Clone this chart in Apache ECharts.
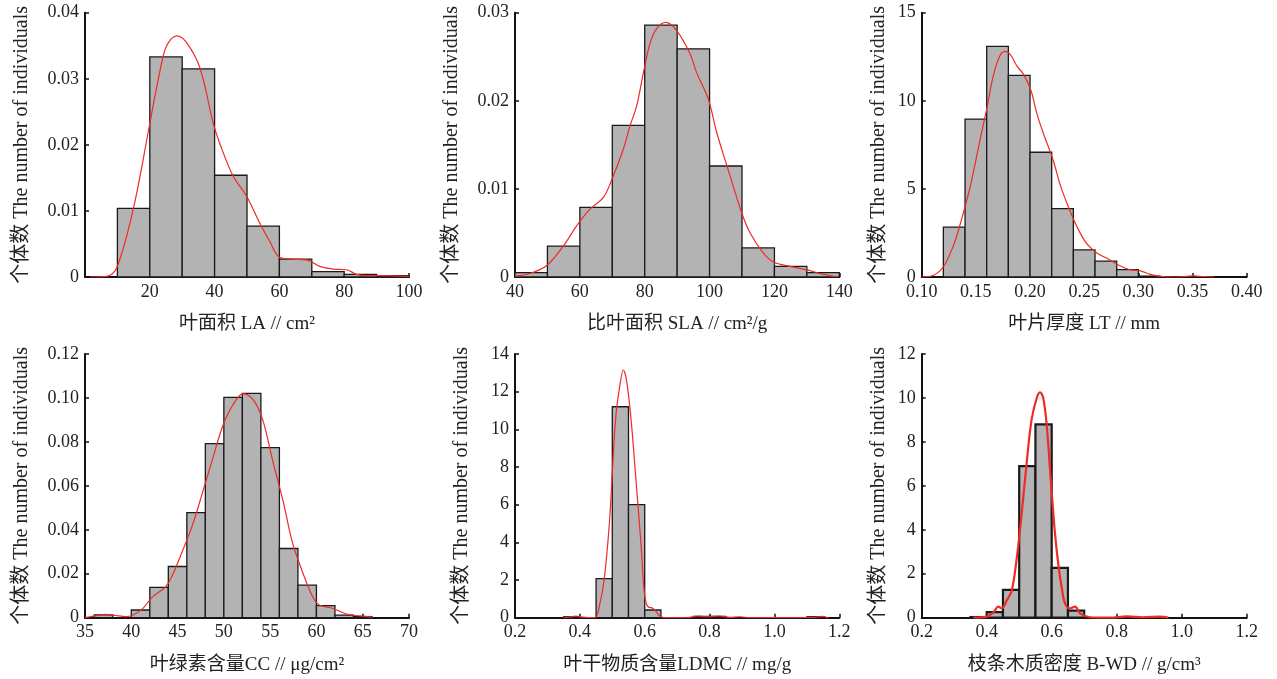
<!DOCTYPE html>
<html><head><meta charset="utf-8">
<script src="https://cdn.jsdelivr.net/npm/echarts@6.0.0/dist/echarts.min.js"></script>
<style>html,body{margin:0;padding:0;background:#fff}#c{width:1277px;height:679px}</style>
</head><body><div id="c"></div>
<script>
// ---------- Panel 1: 叶面积 LA ----------
const laEdges = [10,20,30,40,50,60,70,80,90,100];
const laDensity = [0.0104,0.0333,0.0315,0.0154,0.0077,0.0027,0.0008,0.0004,0.0002];
const laCurveX = [1.5,6.7,9.8,14.9,19.8,23.1,25.2,28.3,31.3,35.5,39.6,41.6,45.7,49.8,54,57,60,64,68.3,72.5,76.6,80.7,83.8,86.8,92,100];
const laCurveY = [0,0.0001,0.0014,0.0103,0.0227,0.0311,0.035,0.0365,0.0355,0.0316,0.0232,0.0202,0.0153,0.0123,0.0081,0.0054,0.003,0.0027,0.0026,0.0016,0.0012,0.0011,0.0004,0.0002,0.0002,0.0001];
const laXTicks = ['', '20', '40', '60', '80', '100'];
const laYTicks = ['0', '0.01', '0.02', '0.03', '0.04'];

// ---------- Panel 2: 比叶面积 SLA ----------
const slaEdges = [40,50,60,70,80,90,100,110,120,130,140];
const slaDensity = [0.0005,0.0035,0.0079,0.0172,0.0286,0.0259,0.0126,0.0033,0.0012,0.0005];
const slaCurveX = [40,44.6,49.8,54.9,59,63.1,67.2,69.8,73.4,75.5,77.5,79.6,81.7,83.7,86.5,89.8,93.9,96,99.6,102.2,106.3,109.9,112.5,116.6,119.7,124.8,130,135.1,139.7];
const slaCurveY = [0.0001,0.0004,0.0013,0.0035,0.0058,0.0077,0.009,0.011,0.0145,0.0172,0.0194,0.0232,0.0266,0.0282,0.0289,0.028,0.0254,0.0232,0.0202,0.0164,0.0115,0.0073,0.005,0.0027,0.0017,0.0012,0.0008,0.0003,0];
const slaXTicks = ['40', '60', '80', '100', '120', '140'];
const slaYTicks = ['0', '0.01', '0.02', '0.03'];

// ---------- Panel 3: 叶片厚度 LT ----------
const ltEdges = [0.12,0.14,0.16,0.18,0.20,0.22,0.24,0.26,0.28,0.30,0.32];
const ltCounts = [2.83,8.96,13.09,11.44,7.08,3.88,1.54,0.9,0.42,0.05];
const ltCurveX = [0.10,0.111,0.12,0.129,0.135,0.145,0.154,0.16,0.166,0.172,0.177,0.182,0.188,0.194,0.201,0.206,0.212,0.221,0.228,0.235,0.243,0.252,0.262,0.271,0.282,0.292,0.302,0.311,0.32,0.335,0.345,0.351,0.36,0.37];
const ltCurveY = [0,0.1,0.58,1.73,2.88,5.19,7.83,9.53,11.4,12.53,12.8,12.6,11.97,11.5,10.56,9.34,8.2,6.7,5.2,4.04,2.9,1.92,1.35,1.06,0.67,0.42,0.35,0.15,0.04,0,0.04,0.06,0.02,0];
const ltXTicks = ['0.10', '0.15', '0.20', '0.25', '0.30', '0.35', '0.40'];
const ltYTicks = ['0', '5', '10', '15'];

// ---------- Panel 4: 叶绿素含量 CC ----------
const ccEdges = [36,38,40,42,44,46,48,50,52,54,56,58,60,62,64,66];
const ccDensity = [0.0013,0,0.0035,0.0138,0.0233,0.0478,0.0792,0.1003,0.1021,0.0774,0.0315,0.0148,0.0055,0.0012,0.0005];
const ccCurveX = [35,36.1,37.2,38.3,39.4,40.1,41.2,42.3,43.7,44.4,45.3,46.6,47.7,48.8,49.9,51,52.1,53.2,54.2,55.3,56.4,57.4,58.5,59.6,60.3,61.8,63.2,64.7,66.1];
const ccCurveY = [0,0.0008,0.0015,0.001,0.0005,0.001,0.004,0.0095,0.014,0.019,0.028,0.042,0.057,0.0725,0.0875,0.097,0.102,0.099,0.09,0.071,0.053,0.0343,0.0208,0.0095,0.0058,0.0042,0.0017,0.0008,0.0002];
const ccXTicks = ['35', '40', '45', '50', '55', '60', '65', '70'];
const ccYTicks = ['0', '0.02', '0.04', '0.06', '0.08', '0.10', '0.12'];

// ---------- Panel 5: 叶干物质含量 LDMC ----------
const ldmcEdges = [0.35,0.40,0.45,0.50,0.55,0.60,0.65,0.70,0.75,0.80,0.85,0.90,0.95,1.00,1.05,1.10,1.15];
const ldmcCounts = [0.05,0,2.07,11.2,6.0,0.41,0,0,0.07,0.07,0,0,0,0,0,0.05];
const ldmcCurveX = [0.35,0.377,0.388,0.408,0.446,0.46,0.475,0.491,0.501,0.511,0.524,0.534,0.544,0.558,0.573,0.589,0.599,0.609,0.625,0.635,0.65,0.676,0.738,0.764,0.79,0.831,0.862,0.893,0.924,1.12,1.145,1.166];
const ldmcCurveY = [0,0.05,0.09,0.03,0,0.6,2.03,5.0,8.0,10.7,12.4,13.15,12.6,10.5,7.3,3.8,1.3,0.6,0.5,0.32,0.05,0,0.02,0.09,0.05,0.09,0.02,0.05,0,0,0.07,0];
const ldmcXTicks = ['0.2', '0.4', '0.6', '0.8', '1.0', '1.2'];
const ldmcYTicks = ['0', '2', '4', '6', '8', '10', '12', '14'];

// ---------- Panel 6: 枝条木质密度 B-WD ----------
const bwdEdges = [0.35,0.40,0.45,0.50,0.55,0.60,0.65,0.70];
const bwdCounts = [0.03,0.25,1.27,6.9,8.8,2.27,0.32];
const bwdCurveX = [0.359,0.4,0.42,0.436,0.446,0.462,0.477,0.492,0.508,0.523,0.538,0.554,0.564,0.574,0.585,0.597,0.61,0.621,0.631,0.641,0.656,0.672,0.687,0.718,0.779,0.831,0.882,0.933,0.959];
const bwdCurveY = [0,0.05,0.23,0.5,0.42,0.8,1.23,2.65,4.8,7.05,9.0,10.0,10.25,10.0,8.7,6.3,3.85,2.35,1.35,0.65,0.42,0.5,0.2,0.02,0,0.06,0.02,0.05,0];
const bwdXTicks = ['0.2', '0.4', '0.6', '0.8', '1.0', '1.2'];
const bwdYTicks = ['0', '2', '4', '6', '8', '10', '12'];

const yName = '个体数 The number of individuals';
const FONT = '"Liberation Serif", "Noto Sans CJK SC", serif';
const TXT = '#222';

const panels = [
  {edges: laEdges, vals: laDensity, cx: laCurveX, cy: laCurveY, xt: laXTicks, yt: laYTicks,
   xmin: 0, xmax: 100, xint: 20, ymin: 0, ymax: 0.04, yint: 0.01,
   xname: '叶面积 LA // cm²', grid: {left: 85, top: 12.7, width: 324, height: 264.3}, yGap: 53, lw: 1.3, cw: 1.2},
  {edges: slaEdges, vals: slaDensity, cx: slaCurveX, cy: slaCurveY, xt: slaXTicks, yt: slaYTicks,
   xmin: 40, xmax: 140, xint: 20, ymin: 0, ymax: 0.03, yint: 0.01,
   xname: '比叶面积 SLA // cm²/g', grid: {left: 515, top: 12.7, width: 324.3, height: 264.3}, yGap: 53, lw: 1.3, cw: 1.2},
  {edges: ltEdges, vals: ltCounts, cx: ltCurveX, cy: ltCurveY, xt: ltXTicks, yt: ltYTicks,
   xmin: 0.10, xmax: 0.40, xint: 0.05, ymin: 0, ymax: 15, yint: 5,
   xname: '叶片厚度 LT // mm', grid: {left: 921.7, top: 12.7, width: 325, height: 264.3}, yGap: 33, lw: 1.3, cw: 1.2},
  {edges: ccEdges, vals: ccDensity, cx: ccCurveX, cy: ccCurveY, xt: ccXTicks, yt: ccYTicks,
   xmin: 35, xmax: 70, xint: 5, ymin: 0, ymax: 0.12, yint: 0.02,
   xname: '叶绿素含量CC // μg/cm²', grid: {left: 85, top: 354, width: 324, height: 263.7}, yGap: 53, lw: 1.3, cw: 1.2},
  {edges: ldmcEdges, vals: ldmcCounts, cx: ldmcCurveX, cy: ldmcCurveY, xt: ldmcXTicks, yt: ldmcYTicks,
   xmin: 0.2, xmax: 1.2, xint: 0.2, ymin: 0, ymax: 14, yint: 2,
   xname: '叶干物质含量LDMC // mg/g', grid: {left: 515, top: 354, width: 324.3, height: 263.7}, yGap: 43, lw: 1.3, cw: 1.2},
  {edges: bwdEdges, vals: bwdCounts, cx: bwdCurveX, cy: bwdCurveY, xt: bwdXTicks, yt: bwdYTicks,
   xmin: 0.2, xmax: 1.2, xint: 0.2, ymin: 0, ymax: 12, yint: 2,
   xname: '枝条木质密度 B-WD // g/cm³', grid: {left: 921.7, top: 354, width: 325, height: 263.7}, yGap: 33, lw: 2.2, cw: 2.2}
];

const grids = [], xAxes = [], yAxes = [], series = [];
panels.forEach((p, i) => {
  grids.push(Object.assign({containLabel: false}, p.grid));
  xAxes.push({
    type: 'value', gridIndex: i, min: p.xmin, max: p.xmax, interval: p.xint,
    name: p.xname, nameLocation: 'middle', nameGap: 38,
    nameTextStyle: {fontFamily: FONT, fontSize: 19, color: TXT},
    axisLine: {show: true, onZero: false, lineStyle: {color: '#111', width: 2}},
    axisTick: {show: true, inside: true, length: 4, lineStyle: {color: '#111', width: 1.5}},
    axisLabel: {fontFamily: FONT, fontSize: 18, color: TXT, margin: 6,
      formatter: (v, idx) => p.xt[idx] !== undefined ? p.xt[idx] : ''},
    splitLine: {show: false}
  });
  yAxes.push({
    type: 'value', gridIndex: i, min: p.ymin, max: p.ymax, interval: p.yint,
    name: yName, nameLocation: 'middle', nameRotate: 90, nameGap: p.yGap,
    nameTextStyle: {fontFamily: FONT, fontSize: 20, color: TXT},
    axisLine: {show: true, lineStyle: {color: '#111', width: 2}},
    axisTick: {show: true, inside: true, length: 4, lineStyle: {color: '#111', width: 1.5}},
    axisLabel: {fontFamily: FONT, fontSize: 18, color: TXT, margin: 6,
      formatter: (v, idx) => p.yt[idx] !== undefined ? p.yt[idx] : ''},
    splitLine: {show: false}
  });
  const barData = p.vals.map((v, k) => [p.edges[k], p.edges[k + 1], v]).filter(d => d[2] > 0);
  series.push({
    type: 'custom', xAxisIndex: i, yAxisIndex: i, z: 2,
    encode: {x: [0, 1], y: 2},
    data: barData,
    renderItem: (params, api) => {
      const a = api.coord([api.value(0), api.value(2)]);
      const b = api.coord([api.value(1), 0]);
      return {type: 'rect', shape: {x: a[0], y: a[1], width: b[0] - a[0], height: b[1] - a[1]},
        style: {fill: '#b3b3b3', stroke: '#1a1a1a', lineWidth: p.lw}};
    }
  });
  series.push({
    type: 'line', xAxisIndex: i, yAxisIndex: i, z: 3,
    data: p.cx.map((x, k) => [x, p.cy[k]]),
    smooth: 0.35, showSymbol: false, symbol: 'none',
    lineStyle: {color: '#ee2b24', width: p.cw}
  });
});

const chart = echarts.init(document.getElementById('c'), null, {renderer: 'canvas'});
chart.setOption({
  backgroundColor: '#ffffff',
  animation: false,
  grid: grids, xAxis: xAxes, yAxis: yAxes, series: series
});
</script>
</body></html>
